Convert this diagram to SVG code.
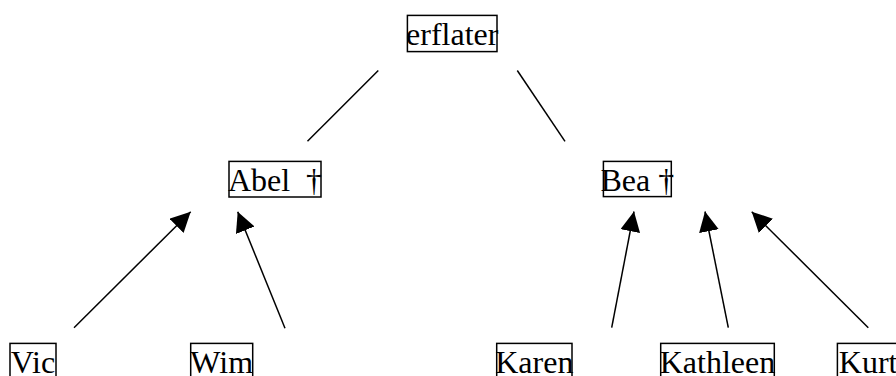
<svg xmlns="http://www.w3.org/2000/svg" width="896" height="376" viewBox="0 0 896 376">
  <style>
    .box { fill: #ffffff; stroke: #000000; stroke-width: 1.5; }
    .lbl { font-family: "Liberation Serif", "Times New Roman", serif; font-size: 32px; fill: #000000; text-anchor: middle; white-space: pre; }
    .edge { stroke: #000000; stroke-width: 1.5; fill: none; }
    .arrow { marker-end: url(#head); }
  </style>
  <defs>
    <marker id="head" markerUnits="userSpaceOnUse" markerWidth="20" markerHeight="20" refX="20" refY="10" orient="auto" viewBox="0 0 20 20">
      <path d="M0,0 L20,10 L0,20 Z" fill="#000000"/>
    </marker>
  </defs>
  <rect width="896" height="376" fill="#ffffff"/>

  <g id="connectors">
    <line class="edge" x1="378.3" y1="70.5" x2="307.5" y2="141.3"/>
    <line class="edge" x1="517.3" y1="70.5" x2="565" y2="141.3"/>
    <line class="edge arrow" x1="74" y1="327.7" x2="190.7" y2="211.7"/>
    <line class="edge arrow" x1="285" y1="328.3" x2="237.7" y2="211.7"/>
    <line class="edge arrow" x1="611.7" y1="327.7" x2="634" y2="211.5"/>
    <line class="edge arrow" x1="728.3" y1="327.7" x2="705" y2="211.5"/>
    <line class="edge arrow" x1="868.3" y1="327.7" x2="751.7" y2="211.7"/>
  </g>

  <g id="node-erflater">
    <rect class="box" x="407.4" y="15.4" width="89.6" height="36.2"/>
    <text class="lbl" x="452.2" y="44.6">erflater</text>
  </g>
  <g id="node-abel">
    <rect class="box" x="229" y="161.4" width="92" height="35.6"/>
    <text class="lbl" x="275" y="190.5" xml:space="preserve">Abel  †</text>
  </g>
  <g id="node-bea">
    <rect class="box" x="603.4" y="161.4" width="67.9" height="35.2"/>
    <text class="lbl" x="637.4" y="190.5">Bea †</text>
  </g>
  <g id="node-vic">
    <rect class="box" x="10" y="343.4" width="46" height="35.6"/>
    <text class="lbl" x="33" y="372.5">Vic</text>
  </g>
  <g id="node-wim">
    <rect class="box" x="190.7" y="343.4" width="62" height="35.6"/>
    <text class="lbl" x="221.7" y="372.5">Wim</text>
  </g>
  <g id="node-karen">
    <rect class="box" x="496.7" y="343.4" width="75.3" height="35.6"/>
    <text class="lbl" x="534.3" y="372.5">Karen</text>
  </g>
  <g id="node-kathleen">
    <rect class="box" x="660.7" y="343.4" width="113.6" height="35.6"/>
    <text class="lbl" x="717.5" y="372.5">Kathleen</text>
  </g>
  <g id="node-kurt">
    <rect class="box" x="837.4" y="343.4" width="70" height="35.6"/>
    <text class="lbl" x="838.8" y="372.5" style="text-anchor:start">Kurt</text>
  </g>
</svg>
